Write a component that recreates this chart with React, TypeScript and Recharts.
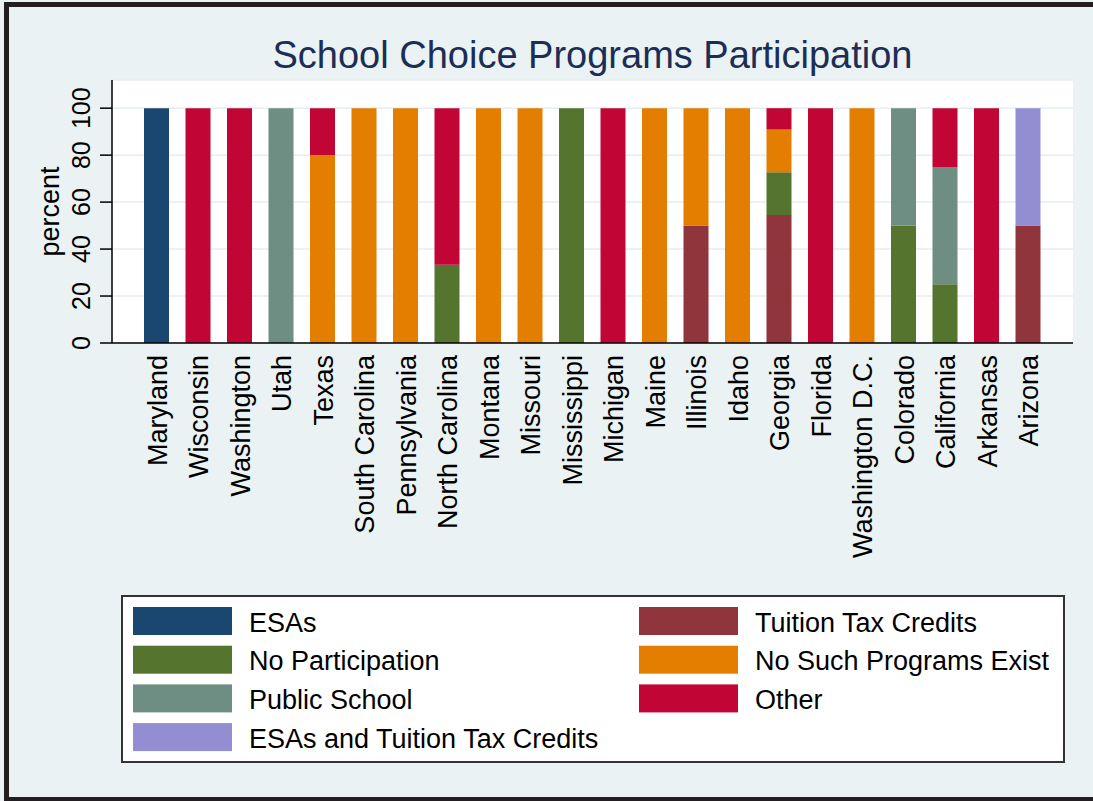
import React from 'react';
import { BarChart, Bar, XAxis, YAxis, CartesianGrid } from 'recharts';

const states = [
  'Maryland', 'Wisconsin', 'Washington', 'Utah', 'Texas', 'South Carolina',
  'Pennsylvania', 'North Carolina', 'Montana', 'Missouri', 'Mississippi',
  'Michigan', 'Maine', 'Illinois', 'Idaho', 'Georgia', 'Florida',
  'Washington D.C.', 'Colorado', 'California', 'Arkansas', 'Arizona',
];

// percent of respondents per state, stacked bottom to top in this order
const esas = [100, 0, 0, 0, 0, 0, 0, 0, 0, 0, 0, 0, 0, 0, 0, 0, 0, 0, 0, 0, 0, 0];
const tuitionTaxCredits = [0, 0, 0, 0, 0, 0, 0, 0, 0, 0, 0, 0, 0, 50, 0, 54.5, 0, 0, 0, 0, 0, 50];
const noParticipation = [0, 0, 0, 0, 0, 0, 0, 33.3, 0, 0, 100, 0, 0, 0, 0, 18.2, 0, 0, 50, 25, 0, 0];
const noSuchPrograms = [0, 0, 0, 0, 80, 100, 100, 0, 100, 100, 0, 0, 100, 50, 100, 18.2, 0, 100, 0, 0, 0, 0];
const publicSchool = [0, 0, 0, 100, 0, 0, 0, 0, 0, 0, 0, 0, 0, 0, 0, 0, 0, 0, 50, 50, 0, 0];
const other = [0, 100, 100, 0, 20, 0, 0, 66.7, 0, 0, 0, 100, 0, 0, 0, 9.1, 100, 0, 0, 25, 100, 0];
const esasAndTuition = [0, 0, 0, 0, 0, 0, 0, 0, 0, 0, 0, 0, 0, 0, 0, 0, 0, 0, 0, 0, 0, 50];

const yTicks = [0, 20, 40, 60, 80, 100];

const series = [
  { key: 'esas', name: 'ESAs', values: esas, color: '#1a476f' },
  { key: 'tuition', name: 'Tuition Tax Credits', values: tuitionTaxCredits, color: '#90353b' },
  { key: 'noPart', name: 'No Participation', values: noParticipation, color: '#55752f' },
  { key: 'noSuch', name: 'No Such Programs Exist', values: noSuchPrograms, color: '#e37e00' },
  { key: 'public', name: 'Public School', values: publicSchool, color: '#6e8e84' },
  { key: 'other', name: 'Other', values: other, color: '#c10534' },
  { key: 'esasTuition', name: 'ESAs and Tuition Tax Credits', values: esasAndTuition, color: '#938dd2' },
];

const data = states.map((state, i) => {
  const row: Record<string, string | number> = { state };
  series.forEach((s) => {
    row[s.key] = s.values[i];
  });
  return row;
});

const FONT = '"Liberation Sans", Arial, sans-serif';
const BG = '#eaf2f3';

const XTick = (props: any) => {
  const { x, y, payload } = props;
  return (
    <g transform={`translate(${x + 10},${y})`}>
      <text transform="rotate(-90)" textAnchor="end" fontSize={27} fill="#000" fontFamily={FONT}>
        {payload.value}
      </text>
    </g>
  );
};

const YTick = (props: any) => {
  const { x, y, payload } = props;
  return (
    <text
      x={x}
      y={y}
      transform={`rotate(-90, ${x}, ${y})`}
      textAnchor="middle"
      fontSize={25}
      fill="#000"
      fontFamily={FONT}
    >
      {payload.value}
    </text>
  );
};

const YLabel = (props: any) => {
  const vb = props.viewBox || { x: 52, y: 80, width: 60, height: 263 };
  const cx = vb.x + 7;
  const cy = vb.y + vb.height / 2;
  return (
    <text
      x={cx}
      y={cy}
      transform={`rotate(-90, ${cx}, ${cy})`}
      textAnchor="middle"
      fontSize={27}
      fill="#000"
      fontFamily={FONT}
    >
      percent
    </text>
  );
};

export default function App() {
  return (
    <div style={{ width: 1093, height: 801, position: 'relative', background: BG, overflow: 'hidden' }}>
      <style>{'body{margin:0}'}</style>
      <div style={{ position: 'absolute', left: 0, top: 0 }}>
        <BarChart
          width={1093}
          height={801}
          data={data}
          margin={{ top: 80, right: 20, left: 52, bottom: 258 }}
        >
          <CartesianGrid vertical={false} stroke="#e6eef0" strokeWidth={1.5} fill="#ffffff" />
          <XAxis
            dataKey="state"
            interval={0}
            height={200}
            tickLine={false}
            tickSize={0}
            tickMargin={12}
            axisLine={{ stroke: '#000', strokeWidth: 1.5 }}
            padding={{ left: 24, right: 24 }}
            tick={<XTick />}
          />
          <YAxis
            width={60}
            domain={[0, 112]}
            ticks={yTicks}
            tickSize={12}
            tickMargin={10}
            tickLine={{ stroke: '#000', strokeWidth: 1.5 }}
            axisLine={{ stroke: '#000', strokeWidth: 1.5 }}
            tick={<YTick />}
            label={{ value: 'percent', content: <YLabel /> }}
          />
          {series.map((s) => (
            <Bar
              key={s.key}
              dataKey={s.key}
              name={s.name}
              stackId="a"
              fill={s.color}
              barSize={25}
              isAnimationActive={false}
            />
          ))}
        </BarChart>
      </div>
      <svg
        width={1093}
        height={801}
        style={{ position: 'absolute', left: 0, top: 0, pointerEvents: 'none' }}
      >
        <text x={592.5} y={68} textAnchor="middle" fontSize={38} fill="#1c2d56" fontFamily={FONT}>
          School Choice Programs Participation
        </text>
        <rect x={122} y={596} width={942} height={166} fill="#fff" stroke="#333" strokeWidth={2} />
        {series.map((s, i) => {
          const col = i % 2;
          const row = Math.floor(i / 2);
          const sx = col === 0 ? 133 : 639;
          const sy = 607 + row * 38.7;
          return (
            <g key={s.key}>
              <rect x={sx} y={sy} width={99} height={28} fill={s.color} />
              <text x={sx + 116} y={sy + 24.5} fontSize={27} fill="#000" fontFamily={FONT}>
                {s.name}
              </text>
            </g>
          );
        })}
        <rect x={6.5} y={4.5} width={1100} height={795} fill="none" stroke="#231f20" strokeWidth={5} />
      </svg>
    </div>
  );
}
